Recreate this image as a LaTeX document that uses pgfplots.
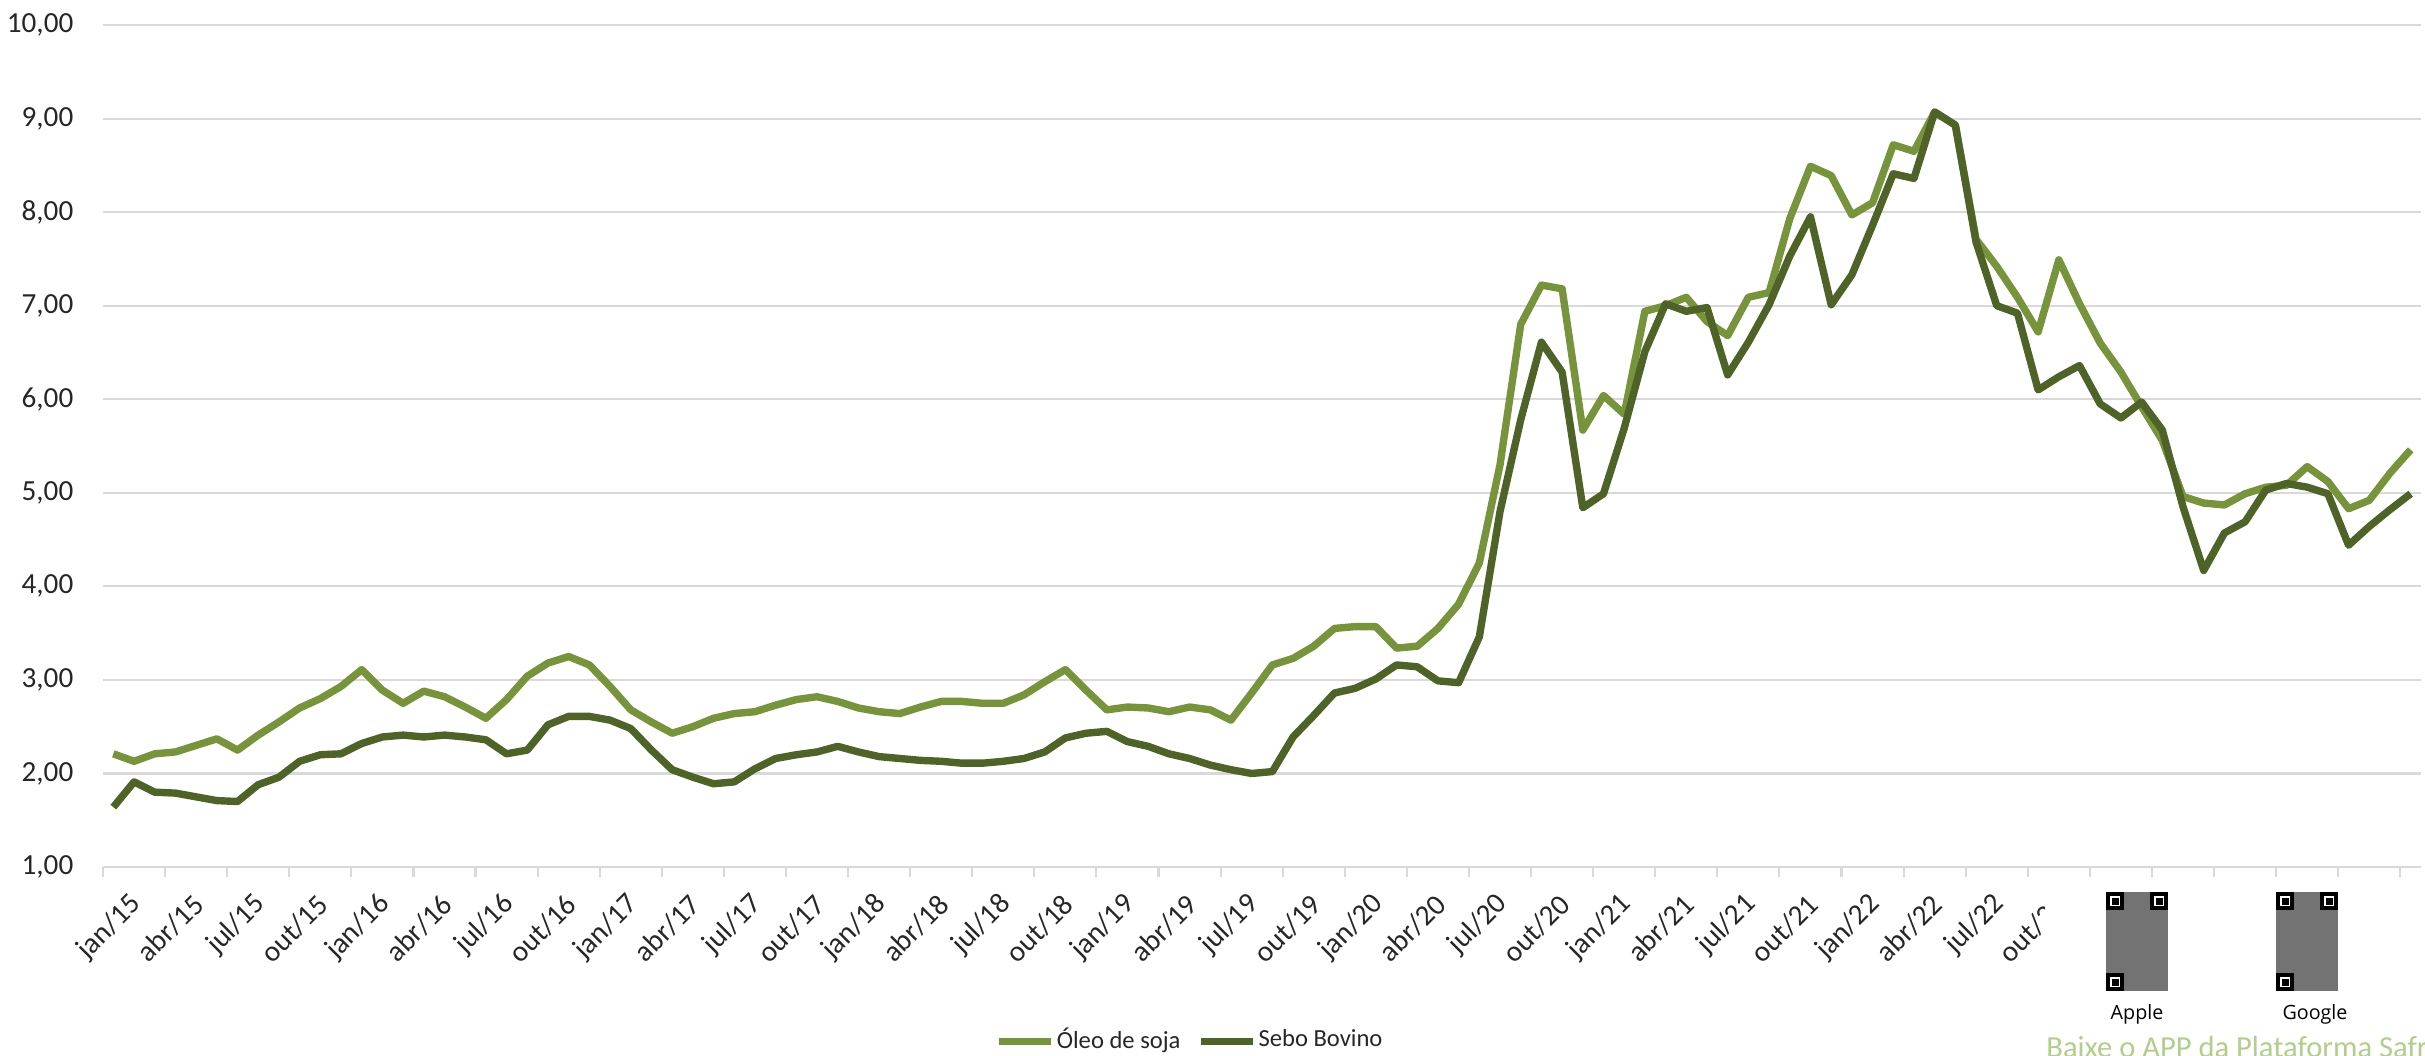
\documentclass[border=0pt]{standalone}
\usepackage{fontspec}
\setmainfont{Carlito}
\newfontfamily\qrfont{Open Sans}
\usepackage{pgfplots}
\pgfplotsset{compat=1.18}
\usepackage{pgfplotstable}
\usetikzlibrary{calc}

\definecolor{oleo}{HTML}{77933C}
\definecolor{sebo}{HTML}{4F6228}
\definecolor{gridc}{HTML}{D9D9D9}
\definecolor{footg}{HTML}{B3CD8C}

\pgfplotstableread{
m oleo sebo
0 2.21 1.64
1 2.13 1.91
2 2.21 1.80
3 2.23 1.79
4 2.30 1.75
5 2.37 1.71
6 2.25 1.70
7 2.41 1.88
8 2.55 1.96
9 2.70 2.13
10 2.80 2.20
11 2.93 2.21
12 3.11 2.32
13 2.89 2.39
14 2.75 2.41
15 2.88 2.39
16 2.82 2.41
17 2.71 2.39
18 2.59 2.36
19 2.79 2.21
20 3.04 2.25
21 3.18 2.52
22 3.25 2.61
23 3.16 2.61
24 2.93 2.57
25 2.68 2.48
26 2.55 2.25
27 2.43 2.04
28 2.50 1.96
29 2.59 1.89
30 2.64 1.91
31 2.66 2.05
32 2.73 2.16
33 2.79 2.20
34 2.82 2.23
35 2.77 2.29
36 2.70 2.23
37 2.66 2.18
38 2.64 2.16
39 2.71 2.14
40 2.77 2.13
41 2.77 2.11
42 2.75 2.11
43 2.75 2.13
44 2.84 2.16
45 2.98 2.23
46 3.11 2.38
47 2.89 2.43
48 2.68 2.45
49 2.71 2.34
50 2.70 2.29
51 2.66 2.21
52 2.71 2.16
53 2.68 2.09
54 2.57 2.04
55 2.86 2.00
56 3.16 2.02
57 3.23 2.39
58 3.36 2.62
59 3.55 2.86
60 3.57 2.91
61 3.57 3.01
62 3.34 3.16
63 3.36 3.14
64 3.55 2.99
65 3.81 2.97
66 4.25 3.46
67 5.30 4.80
68 6.80 5.78
69 7.22 6.61
70 7.18 6.29
71 5.67 4.84
72 6.04 4.99
73 5.84 5.69
74 6.94 6.51
75 7.00 7.02
76 7.09 6.94
77 6.83 6.98
78 6.68 6.26
79 7.09 6.61
80 7.14 7.01
81 7.93 7.53
82 8.49 7.95
83 8.39 7.01
84 7.97 7.33
85 8.10 7.86
86 8.72 8.41
87 8.65 8.36
88 9.07 9.07
89 8.93 8.93
90 7.71 7.68
91 7.42 7.00
92 7.09 6.92
93 6.72 6.10
94 7.49 6.24
95 7.02 6.36
96 6.60 5.95
97 6.29 5.80
98 5.92 5.97
99 5.56 5.67
100 4.96 4.85
101 4.89 4.17
102 4.87 4.57
103 4.99 4.69
104 5.06 5.03
105 5.08 5.10
106 5.28 5.06
107 5.12 4.99
108 4.83 4.44
109 4.92 4.64
110 5.21 4.82
111 5.46 4.99
}\data

\begin{document}
\begin{tikzpicture}
\begin{axis}[name=ax, at={(0,0)}, anchor=south west,
  scale only axis, width=23.18cm, height=8.42cm,
  xmin=-0.5, xmax=111.5, ymin=1, ymax=10,
  axis line style={draw=none},
  ytick={1,...,10},
  ymajorgrids, grid style={gridc, line width=0.6pt},
  major tick length=0pt,
  xtick={0,3,...,93},
  xticklabels={jan/15,abr/15,jul/15,out/15,jan/16,abr/16,jul/16,out/16,jan/17,abr/17,jul/17,out/17,jan/18,abr/18,jul/18,out/18,jan/19,abr/19,jul/19,out/19,jan/20,abr/20,jul/20,out/20,jan/21,abr/21,jul/21,out/21,jan/22,abr/22,jul/22,out/22},
  xtick pos=lower, ytick pos=left,
  extra x ticks={-0.5,2.5,...,110.5},
  extra x tick labels={},
  extra x tick style={major tick length=0.1cm, tick align=outside, tick style={draw=gridc, line width=0.6pt}},
  /pgf/number format/assume math mode=true,
  yticklabel style={/pgf/number format/fixed, /pgf/number format/fixed zerofill, /pgf/number format/precision=2, /pgf/number format/use comma, inner sep=0pt, xshift=-0.29cm},
  tick label style={font=\fontsize{8.3}{10}\selectfont, text=black!85},
  xticklabel style={rotate=45, anchor=east, inner sep=0pt, xshift=-0.06cm, yshift=-0.40cm},
  legend style={at={(0.469,0)}, anchor=center, yshift=-1.74cm, draw=none, fill=none,
    font=\fontsize{7}{8.5}\selectfont, text=black!85,
    nodes={inner sep=0.02cm},
    /tikz/every even column/.append style={column sep=0.15cm}},
  legend columns=2,
  legend image code/.code={\draw[#1, line width=2pt] (0cm,0cm) -- (0.52cm,0cm);},
]
\addplot[oleo, line width=2.1pt, line join=round] table[x=m, y=oleo] {\data};
\addlegendentry{Óleo de soja}
\addplot[sebo, line width=2.1pt, line join=round] table[x=m, y=sebo] {\data};
\addlegendentry{Sebo Bovino}
\end{axis}
% white box covering hidden labels, QR codes
\fill[white] (19.42,-0.20) rectangle (23.30,-1.90);
\foreach \qx in {20.03,21.73}{
  \fill[black!55] (\qx,-0.25) rectangle ++(0.62,-0.99);
  \foreach \cx/\cy in {0/0,0.44/0,0/-0.81}{
    \fill[white] (\qx+\cx,-0.25+\cy) rectangle ++(0.18,-0.18);
    \draw[black, line width=0.04cm] (\qx+\cx+0.02,-0.27+\cy) rectangle ++(0.14,-0.14);
    \fill[black] (\qx+\cx+0.055,-0.305+\cy) rectangle ++(0.07,-0.07);
  }
}
\node[font=\fontsize{5.6}{7}\selectfont\qrfont] at (20.34,-1.47) {Apple};
\node[font=\fontsize{5.6}{7}\selectfont\qrfont] at (22.12,-1.47) {Google};
\node[font=\fontsize{8.7}{10}\selectfont, text=footg, anchor=west] at (19.31,-1.80) {Baixe o APP da Plataforma Safras};
\pgfresetboundingbox
\path[use as bounding box] (-1.03,-1.88) rectangle (23.22,8.67);
\end{tikzpicture}
\end{document}
